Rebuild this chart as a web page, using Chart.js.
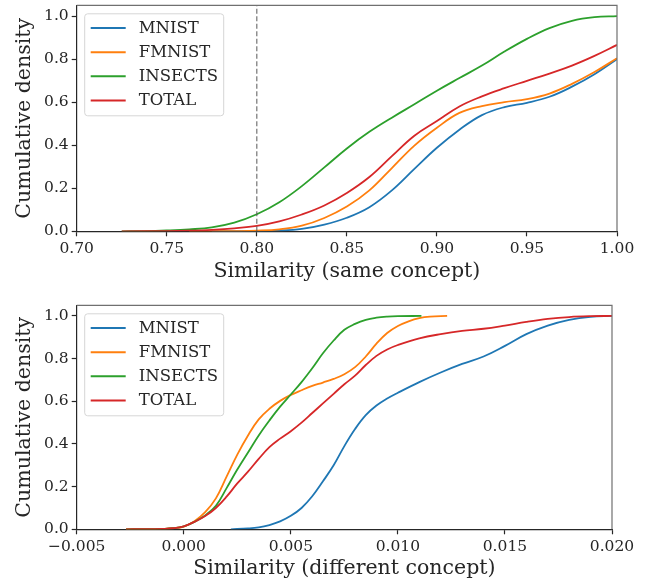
<!DOCTYPE html>
<html>
<head>
<meta charset="utf-8">
<script src="https://cdn.jsdelivr.net/npm/chart.js@4"></script>
<style>
  html, body { margin: 0; padding: 0; background: #fff; }
  #wrap { position: relative; width: 647px; height: 582px; }
  canvas { position: absolute; left: 0; }
  #same { top: 0; }
  #diff { top: 290px; }
</style>
</head>
<body>
<div id="wrap">
  <canvas id="same" width="647" height="290"></canvas>
  <canvas id="diff" width="647" height="292"></canvas>
</div>
<script>
// series names and colours
const seriesNames = ["MNIST", "FMNIST", "INSECTS", "TOTAL"];
const seriesColors = ["#1f77b4", "#ff7f0e", "#2ca02c", "#d62728"];

// top panel: similarity within the same concept
const sameXTicks = [0.70, 0.75, 0.80, 0.85, 0.90, 0.95, 1.00];
const yTicks = [0.0, 0.2, 0.4, 0.6, 0.8, 1.0];
const sameCut = 0.80;

const sameMnistX = [0.775, 0.7875, 0.80, 0.8125, 0.825, 0.8375, 0.85, 0.8625, 0.875, 0.8875, 0.90, 0.9125, 0.925, 0.9375, 0.95, 0.9625, 0.975, 0.9875, 1.00];
const sameMnistY = [0, 0.0005, 0.001, 0.003, 0.011, 0.031, 0.063, 0.112, 0.19, 0.29, 0.388, 0.472, 0.54, 0.577, 0.597, 0.625, 0.672, 0.73, 0.80];

const sameFmnistX = [0.7625, 0.775, 0.7875, 0.80, 0.8125, 0.825, 0.8375, 0.85, 0.8625, 0.875, 0.8875, 0.90, 0.9125, 0.925, 0.9375, 0.95, 0.9625, 0.975, 0.9875, 1.00];
const sameFmnistY = [0, 0.0005, 0.001, 0.003, 0.009, 0.026, 0.062, 0.115, 0.19, 0.294, 0.398, 0.481, 0.55, 0.582, 0.6, 0.614, 0.64, 0.685, 0.74, 0.804];

const sameInsectsX = [0.725, 0.7375, 0.75, 0.7625, 0.775, 0.7875, 0.80, 0.8125, 0.825, 0.8375, 0.85, 0.8625, 0.875, 0.8875, 0.90, 0.9125, 0.925, 0.9375, 0.95, 0.9625, 0.975, 0.9875, 1.00];
const sameInsectsY = [0, 0.001, 0.004, 0.009, 0.018, 0.04, 0.079, 0.135, 0.21, 0.297, 0.385, 0.462, 0.528, 0.59, 0.653, 0.712, 0.77, 0.835, 0.894, 0.944, 0.978, 0.995, 1.0];

const sameTotalX = [0.725, 0.75, 0.7625, 0.775, 0.7875, 0.80, 0.8125, 0.825, 0.8375, 0.85, 0.8625, 0.875, 0.8875, 0.90, 0.9125, 0.925, 0.9375, 0.95, 0.9625, 0.975, 0.9875, 1.00];
const sameTotalY = [0, 0.001, 0.003, 0.007, 0.014, 0.025, 0.046, 0.078, 0.12, 0.178, 0.252, 0.349, 0.444, 0.512, 0.58, 0.627, 0.665, 0.699, 0.733, 0.77, 0.815, 0.866];

// bottom panel: similarity across different concepts
const diffXTicks = [-0.005, 0.000, 0.005, 0.010, 0.015, 0.020];

const diffMnistX = [0.0022, 0.003, 0.0035, 0.004, 0.0045, 0.005, 0.0055, 0.006, 0.0065, 0.007, 0.0075, 0.008, 0.0085, 0.009, 0.0095, 0.010, 0.011, 0.012, 0.013, 0.014, 0.015, 0.016, 0.017, 0.018, 0.019, 0.020];
const diffMnistY = [0, 0.004, 0.009, 0.02, 0.037, 0.063, 0.1, 0.155, 0.225, 0.3, 0.39, 0.47, 0.535, 0.58, 0.613, 0.64, 0.69, 0.735, 0.775, 0.81, 0.86, 0.915, 0.955, 0.982, 0.996, 1.0];

const diffFmnistX = [-0.0027, -0.002, -0.0015, -0.001, -0.0005, 0.000, 0.0005, 0.001, 0.0015, 0.002, 0.0025, 0.003, 0.0035, 0.004, 0.0045, 0.005, 0.0055, 0.006, 0.0065, 0.007, 0.0075, 0.008, 0.0085, 0.009, 0.0095, 0.010, 0.0105, 0.011, 0.0115, 0.0123];
const diffFmnistY = [0, 0.0005, 0.001, 0.002, 0.005, 0.013, 0.038, 0.08, 0.145, 0.247, 0.35, 0.44, 0.515, 0.565, 0.602, 0.63, 0.652, 0.672, 0.688, 0.705, 0.727, 0.76, 0.81, 0.87, 0.92, 0.953, 0.975, 0.99, 0.997, 1.0];

const diffInsectsX = [-0.0027, -0.002, -0.0015, -0.001, -0.0005, 0.000, 0.0005, 0.001, 0.0015, 0.002, 0.0025, 0.003, 0.0035, 0.004, 0.0045, 0.005, 0.0055, 0.006, 0.0065, 0.007, 0.0075, 0.008, 0.0085, 0.009, 0.0095, 0.010, 0.0111];
const diffInsectsY = [0, 0.0005, 0.001, 0.002, 0.005, 0.014, 0.035, 0.065, 0.11, 0.193, 0.28, 0.36, 0.44, 0.51, 0.575, 0.632, 0.69, 0.755, 0.825, 0.885, 0.935, 0.963, 0.982, 0.992, 0.997, 0.999, 1.0];

const diffTotalX = [-0.0027, -0.002, -0.0015, -0.001, -0.0005, 0.000, 0.0005, 0.001, 0.0015, 0.002, 0.0025, 0.003, 0.0035, 0.004, 0.0045, 0.005, 0.0055, 0.006, 0.0065, 0.007, 0.0075, 0.008, 0.0085, 0.009, 0.0095, 0.010, 0.011, 0.012, 0.013, 0.014, 0.015, 0.016, 0.017, 0.018, 0.019, 0.020];
const diffTotalY = [0, 0.0005, 0.001, 0.002, 0.005, 0.014, 0.035, 0.062, 0.1, 0.153, 0.215, 0.27, 0.33, 0.385, 0.425, 0.46, 0.5, 0.545, 0.59, 0.635, 0.68, 0.72, 0.77, 0.813, 0.843, 0.864, 0.895, 0.915, 0.93, 0.94, 0.955, 0.972, 0.986, 0.995, 0.999, 1.0];

const FONT = '"DejaVu Serif", serif';
const TEXT = "#262626";
const SPINE = "#262626";
const SPINE_LIGHT = "#707070";

function pts(xs, ys) {
  return xs.map((x, i) => ({ x, y: ys[i] }));
}

function series(xsList, ysList) {
  return seriesNames.map((name, i) => ({
    label: name,
    data: pts(xsList[i], ysList[i]),
    borderColor: seriesColors[i],
    backgroundColor: seriesColors[i],
    borderWidth: 1.8,
    pointRadius: 0,
    tension: 0.4,
    order: seriesNames.length - i,
    inLegend: true,
  }));
}

// legend box in the upper-left corner and the light top/right spines
const frameLegend = {
  id: "frameLegend",
  afterDraw(chart) {
    const { ctx, chartArea: a } = chart;
    ctx.save();
    ctx.strokeStyle = SPINE_LIGHT;
    ctx.lineWidth = 1.2;
    ctx.beginPath();
    ctx.moveTo(a.left, a.top);
    ctx.lineTo(a.right, a.top);
    ctx.lineTo(a.right, a.bottom);
    ctx.stroke();

    const items = chart.data.datasets.filter((d) => d.inLegend);
    const bx = a.left + 8, by = a.top + 8.5, bw = 139, bh = 102;
    ctx.beginPath();
    ctx.roundRect(bx, by, bw, bh, 3);
    ctx.fillStyle = "rgba(255,255,255,0.8)";
    ctx.fill();
    ctx.strokeStyle = "#d6d6d6";
    ctx.lineWidth = 1;
    ctx.stroke();

    ctx.font = "16.5px " + FONT;
    ctx.textBaseline = "middle";
    ctx.fillStyle = TEXT;
    items.forEach((d, i) => {
      const y = by + 14.3 + i * 24.1;
      ctx.strokeStyle = d.borderColor;
      ctx.lineWidth = 2;
      ctx.beginPath();
      ctx.moveTo(bx + 6, y);
      ctx.lineTo(bx + 41, y);
      ctx.stroke();
      ctx.fillText(d.label, bx + 54, y + 0.5);
    });
    ctx.restore();
  },
};

function makeChart(canvas, opts) {
  return new Chart(canvas, {
    type: "line",
    data: { datasets: opts.datasets },
    options: {
      responsive: false,
      animation: false,
      layout: { padding: opts.padding },
      plugins: { legend: { display: false }, tooltip: { enabled: false } },
      scales: {
        x: {
          type: "linear",
          min: opts.xTicks[0],
          max: opts.xTicks[opts.xTicks.length - 1],
          afterBuildTicks: (s) => { s.ticks = opts.xTicks.map((v) => ({ value: v })); },
          afterFit: (s) => { s.height = opts.xHeight; s.paddingLeft = 0; s.paddingRight = 0; },
          ticks: {
            autoSkip: false,
            maxRotation: 0,
            padding: 3,
            color: TEXT,
            font: { family: FONT, size: 15.5 },
            callback: opts.xFormat,
          },
          grid: { drawOnChartArea: false, tickLength: 5, tickColor: SPINE, tickWidth: 1.2 },
          border: { color: SPINE, width: 1.2 },
          title: {
            display: true,
            text: opts.xTitle,
            color: TEXT,
            font: { family: FONT, size: 20.5 },
            padding: { top: 0, bottom: opts.xTitlePad },
          },
        },
        y: {
          type: "linear",
          min: 0,
          max: 1.05,
          afterBuildTicks: (s) => { s.ticks = yTicks.map((v) => ({ value: v })); },
          afterFit: (s) => { s.width = 76.7; s.paddingTop = 0; s.paddingBottom = 0; },
          ticks: {
            padding: 3,
            color: TEXT,
            font: { family: FONT, size: 15.5 },
            callback: (v) => v.toFixed(1),
          },
          grid: { drawOnChartArea: false, tickLength: 5, tickColor: SPINE, tickWidth: 1.2 },
          border: { color: SPINE, width: 1.2 },
          title: {
            display: true,
            text: "Cumulative density",
            color: TEXT,
            font: { family: FONT, size: 20.5 },
            padding: { top: 12, bottom: 0 },
          },
        },
      },
    },
    plugins: [frameLegend],
  });
}

const sameSets = series(
  [sameMnistX, sameFmnistX, sameInsectsX, sameTotalX],
  [sameMnistY, sameFmnistY, sameInsectsY, sameTotalY]
);
sameSets.push({
  label: "",
  data: [{ x: sameCut, y: 0 }, { x: sameCut, y: 1.05 }],
  borderColor: "rgba(90,90,90,0.85)",
  borderWidth: 1.2,
  borderDash: [5, 2.5],
  pointRadius: 0,
  order: -1,
  inLegend: false,
});

makeChart(document.getElementById("same"), {
  datasets: sameSets,
  xTicks: sameXTicks,
  xFormat: (v) => v.toFixed(2),
  xTitle: "Similarity (same concept)",
  xTitlePad: 6,
  xHeight: 58.7,
  padding: { left: 0, right: 30, top: 5.3, bottom: 0 },
});

makeChart(document.getElementById("diff"), {
  datasets: series(
    [diffMnistX, diffFmnistX, diffInsectsX, diffTotalX],
    [diffMnistY, diffFmnistY, diffInsectsY, diffTotalY]
  ),
  xTicks: diffXTicks,
  xFormat: (v) => (v < 0 ? "\u2212" + Math.abs(v).toFixed(3) : v.toFixed(3)),
  xTitle: "Similarity (different concept)",
  xTitlePad: 1,
  xHeight: 52.7,
  padding: { left: 0, right: 35, top: 15.3, bottom: 0 },
});
</script>
</body>
</html>
